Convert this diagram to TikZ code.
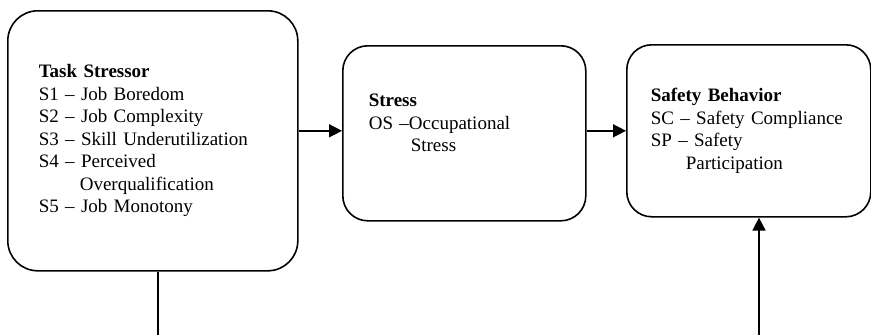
\documentclass[tikz,border=0pt]{standalone}
\usepackage{fontspec}
\setmainfont{Liberation Serif}
\usetikzlibrary{arrows.meta, positioning}
\tikzset{
  factor/.style = {draw, line width=1.6pt, anchor=north west, align=left,
                   inner ysep=0pt, font=\fontsize{19}{22.5}\selectfont},
  flow/.style   = {-{Triangle[length=13pt, width=13pt]}, line width=1.6pt},
  link/.style   = {-, line width=1.6pt},
}

\begin{document}
\begin{tikzpicture}[x=1pt, y=-1pt]
    \useasboundingbox (0,0) rectangle (871,335);

    % --- model factors ------------------------------------------------------
    \node[factor, rounded corners=30pt, minimum width=290pt, minimum height=260pt,
          inner xsep=31pt, text width=228pt] (stressor) at (7,10)
      {\textbf{Task Stressor}\\
       S1 -- Job Boredom\\
       S2 -- Job Complexity\\
       S3 -- Skill Underutilization\\
       S4 -- Perceived\\
       \hspace*{41pt}Overqualification\\
       S5 -- Job Monotony};
    \node[factor, rounded corners=25pt, minimum width=243pt, minimum height=175pt,
          inner xsep=26pt, text width=191pt] (stress) at (342,45)
      {\textbf{Stress}\\
       OS --Occupational\\
       \hspace*{42pt}Stress\rule[-21pt]{0pt}{21pt}};
    \node[factor, rounded corners=25pt, minimum width=244pt, minimum height=172pt,
          inner xsep=24pt, text width=196pt] (safety) at (626,44)
      {\textbf{Safety Behavior}\\
       SC -- Safety Compliance\\
       SP -- Safety\\
       \hspace*{35pt}Participation};

    % --- loose ends at the bottom -------------------------------------------
    \coordinate (stressor-foot) at (158,335);
    \coordinate (safety-foot) at (759,335);

    % --- edges --------------------------------------------------------------
    \draw[flow] (stressor.east |- safety.west) -- (stress.west |- safety.west);
    \draw[flow] (stress.east |- safety.west) -- (safety.west);
    \draw[link] (stressor.south -| stressor-foot) -- (stressor-foot);
    \draw[flow] (safety-foot) -- (safety.south -| safety-foot);
\end{tikzpicture}
\end{document}
